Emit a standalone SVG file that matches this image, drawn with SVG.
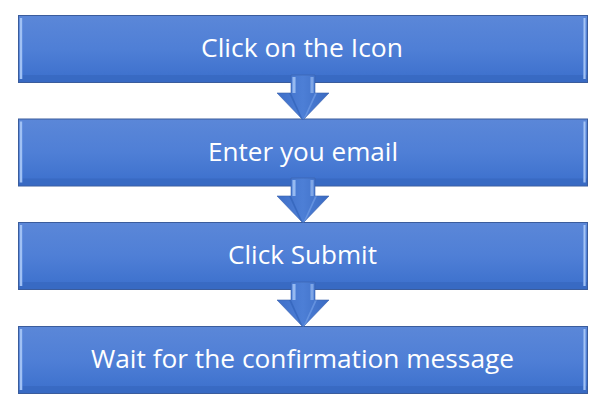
<svg xmlns="http://www.w3.org/2000/svg" width="603" height="417" viewBox="0 0 603 417">
  <defs>
    <linearGradient id="boxGrad" x1="0" y1="0" x2="0" y2="1">
      <stop offset="0" stop-color="#5b87d8"/>
      <stop offset="0.5" stop-color="#4f7fd6"/>
      <stop offset="1" stop-color="#3b6fcc"/>
    </linearGradient>
    <linearGradient id="leftBevel" x1="0" y1="0" x2="1" y2="0">
      <stop offset="0" stop-color="#6f9be6"/>
      <stop offset="0.5" stop-color="#b9d4fb"/>
      <stop offset="1" stop-color="#6f9be6"/>
    </linearGradient>
    <linearGradient id="arrowGrad" x1="0" y1="0" x2="1" y2="0">
      <stop offset="0" stop-color="#3f6fc8"/>
      <stop offset="0.5" stop-color="#4d7fd6"/>
      <stop offset="1" stop-color="#3a6ac2"/>
    </linearGradient>
    <linearGradient id="shaftHi" x1="0" y1="0" x2="1" y2="0">
      <stop offset="0" stop-color="#5f8fe0"/>
      <stop offset="0.5" stop-color="#a9c8f5"/>
      <stop offset="1" stop-color="#5f8fe0"/>
    </linearGradient>
    <g id="box">
      <rect x="18.5" y="0.5" width="569" height="67" fill="url(#boxGrad)" stroke="#3a5c9c" stroke-width="1"/>
      <rect x="19" y="60" width="568" height="7" fill="#3566bd" opacity="0.6"/>
      <rect x="19.5" y="3" width="3" height="61" fill="url(#leftBevel)"/>
      <rect x="583" y="3" width="3" height="61" fill="url(#leftBevel)" opacity="0.8"/>
    </g>
    <g id="arrow">
      <polygon points="291,0 315,0 315,18 329,18 303,45 277,18 291,18" fill="url(#arrowGrad)"/>
      <rect x="292" y="2" width="4" height="16" fill="url(#shaftHi)"/>
      <rect x="310" y="2" width="4" height="16" fill="url(#shaftHi)" opacity="0.7"/>
      <polygon points="303,45 315,18 317,18 306,42" fill="#6b98e4" opacity="0.8"/>
      <polygon points="303,45 291,18 289,18 300,42" fill="#3565bb" opacity="0.8"/>
      <polygon points="291,0 315,0 315,18 329,18 303,45 277,18 291,18" fill="none" stroke="#3a62ad" stroke-width="0.6"/>
    </g>
  </defs>
  <style>
    .label { fill: #ffffff; font-family: "Open Sans", "Liberation Sans", sans-serif; font-size: 26px; text-anchor: middle; }
  </style>

  <g id="node1">
    <use href="#box" transform="translate(0,15)"/>
    <text class="label" x="302" y="57" textLength="202" lengthAdjust="spacingAndGlyphs">Click on the Icon</text>
  </g>
  <g id="node2">
    <use href="#box" transform="translate(0,118.5)"/>
    <text class="label" x="303" y="161" textLength="190" lengthAdjust="spacingAndGlyphs">Enter you email</text>
  </g>
  <g id="node3">
    <use href="#box" transform="translate(0,222)"/>
    <text class="label" x="302.5" y="264" textLength="149" lengthAdjust="spacingAndGlyphs">Click Submit</text>
  </g>
  <g id="node4">
    <use href="#box" transform="translate(0,326)"/>
    <text class="label" x="302.5" y="368" textLength="423" lengthAdjust="spacingAndGlyphs">Wait for the confirmation message</text>
  </g>

  <g id="connectors">
    <use href="#arrow" transform="translate(0,75)"/>
    <use href="#arrow" transform="translate(0,178)"/>
    <use href="#arrow" transform="translate(0,282)"/>
  </g>
</svg>
